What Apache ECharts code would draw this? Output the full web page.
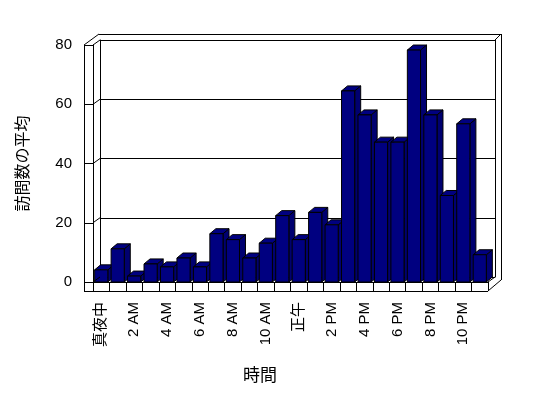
<!DOCTYPE html>
<html>
<head>
<meta charset="utf-8">
<script src="https://cdn.jsdelivr.net/npm/echarts@6/dist/echarts.min.js"></script>
<style>
html, body { margin: 0; padding: 0; background: #fff; }
#main { width: 548px; height: 398px; }
</style>
</head>
<body>
<div id="main"></div>
<script>
// hours of the day (labels shown on every other one)
var hours = ['真夜中', '1 AM', '2 AM', '3 AM', '4 AM', '5 AM', '6 AM', '7 AM', '8 AM', '9 AM', '10 AM', '11 AM',
             '正午', '1 PM', '2 PM', '3 PM', '4 PM', '5 PM', '6 PM', '7 PM', '8 PM', '9 PM', '10 PM', '11 PM'];
// average visits per hour
var visits = [4.1, 11.2, 2.0, 6.1, 5.1, 8.1, 5.1, 16.3, 14.3, 8.1, 13.1, 22.4,
              14.3, 23.5, 19.3, 64.5, 56.4, 47.2, 47.2, 78.3, 56.4, 29.2, 53.4, 9.2];
var yTicks = [0, 20, 40, 60, 80];

var font = '"Liberation Sans", "Noto Sans CJK JP", sans-serif';
var frame = { left: 93, right: 60, top: 45, bottom: 116 };
var wall = { x: 7, y: -5 };     // back wall offset
var barDepth = { x: 6, y: -5 };  // bar side / top depth
var navy = '#000080';

var chart = echarts.init(document.getElementById('main'), null, { renderer: 'canvas' });

function renderBar(params, api) {
    var i = api.value(0);
    var top = api.coord([i, api.value(1)]);
    var base = api.coord([i, 0]);
    var w = api.size([1, 0])[0] * 0.8;
    var x0 = top[0] - w / 2, x1 = top[0] + w / 2;
    var dx = barDepth.x, dy = barDepth.y;
    var line = { stroke: '#000', lineWidth: 1 };
    return {
        type: 'group',
        children: [
            { type: 'polygon',
              shape: { points: [[x1, base[1]], [x1, top[1]], [x1 + dx, top[1] + dy], [x1 + dx, base[1] + dy]] },
              style: echarts.util.extend({ fill: '#000070' }, line) },
            { type: 'polygon',
              shape: { points: [[x0, top[1]], [x0 + dx, top[1] + dy], [x1 + dx, top[1] + dy], [x1, top[1]]] },
              style: echarts.util.extend({ fill: navy }, line) },
            { type: 'rect',
              shape: { x: x0, y: top[1], width: w, height: base[1] - top[1] },
              style: echarts.util.extend({ fill: navy }, line) }
        ]
    };
}

var blackLine = { color: '#000', width: 1 };

var option = {
    animation: false,
    backgroundColor: '#fff',
    grid: [
        { left: frame.left, right: frame.right, top: frame.top, bottom: frame.bottom,
          containLabel: false, outerBoundsMode: 'none' },
        { left: frame.left + wall.x, right: frame.right - wall.x, top: frame.top + wall.y, bottom: frame.bottom - wall.y,
          containLabel: false, outerBoundsMode: 'none' }
    ],
    xAxis: [
        {
            type: 'category', gridIndex: 0, data: hours, boundaryGap: true,
            name: '時間', nameLocation: 'middle', nameGap: 86,
            nameTextStyle: { fontFamily: font, fontSize: 17, color: '#000', padding: [0, 61, 0, 0] },
            axisLine: { show: true, lineStyle: blackLine },
            axisTick: { show: true, interval: 0, length: 9, lineStyle: blackLine },
            axisLabel: { interval: 1, rotate: 90, margin: 20, fontSize: 15, color: '#000', fontFamily: font },
            splitLine: { show: false }
        },
        {
            type: 'category', gridIndex: 1, data: hours,
            axisLine: { show: true, lineStyle: blackLine },
            axisTick: { show: false }, axisLabel: { show: false }, splitLine: { show: false }
        }
    ],
    yAxis: [
        {
            type: 'value', gridIndex: 0,
            min: yTicks[0], max: yTicks[yTicks.length - 1], interval: yTicks[1] - yTicks[0],
            name: '訪問数の平均', nameLocation: 'middle', nameGap: 61, nameRotate: 90,
            nameTextStyle: { fontFamily: font, fontSize: 16, color: '#000' },
            axisLine: { show: true, lineStyle: blackLine },
            axisTick: { show: true, length: 9, lineStyle: blackLine },
            axisLabel: { margin: 21, fontSize: 15, color: '#000', fontFamily: font },
            splitLine: { show: false }
        },
        {
            type: 'value', gridIndex: 1,
            min: yTicks[0], max: yTicks[yTicks.length - 1], interval: yTicks[1] - yTicks[0],
            axisLine: { show: true, lineStyle: blackLine },
            axisTick: { show: false }, axisLabel: { show: false },
            splitLine: { show: true, lineStyle: blackLine }
        }
    ],
    series: [{
        type: 'custom', xAxisIndex: 0, yAxisIndex: 0,
        data: visits.map(function (v, i) { return [i, v]; }),
        renderItem: renderBar
    }]
};

chart.setOption(option);

// box edges (walls and floor slab) around the plot
var L = frame.left - 9, P = frame.left, R = 548 - frame.right;
var T = frame.top, B = 398 - frame.bottom, S = B + 9;
var OX = R + 13, OY = T - 11;
var segs = [
    [L, T, L, S], [L, S, R, S],
    [L, T, L + 15, OY], [L + 15, OY, OX, OY],
    [OX, OY, OX, B - 2], [OX, B - 2, R, S],
    [R + wall.x, T + wall.y, OX, OY],
    [R + wall.x, T + wall.y, R + wall.x, B + wall.y],
    [R, B, R + wall.x, B + wall.y]
];
yTicks.forEach(function (v) {
    var y = chart.convertToPixel({ yAxisIndex: 0 }, v);
    segs.push([P, y, P + wall.x, y + wall.y]);
});

function crisp(v) { return Math.round(v) + 0.5; }

chart.setOption({
    graphic: segs.map(function (s) {
        var x1 = s[0], y1 = s[1], x2 = s[2], y2 = s[3];
        if (x1 === x2) { x1 = x2 = crisp(x1); }
        if (y1 === y2) { y1 = y2 = crisp(y1); }
        return {
            type: 'line', z: 10, silent: true,
            shape: { x1: x1, y1: y1, x2: x2, y2: y2 },
            style: { stroke: '#000', lineWidth: 1 }
        };
    })
});
</script>
</body>
</html>
